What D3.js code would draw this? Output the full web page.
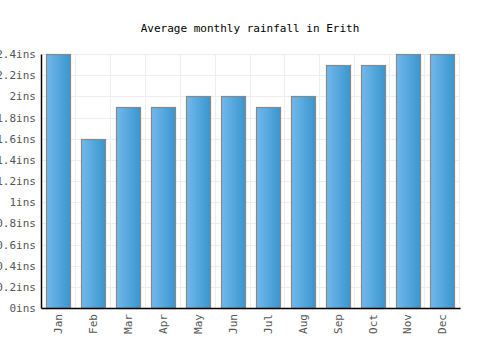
<!DOCTYPE html>
<html>
<head>
<meta charset="utf-8">
<script src="https://cdn.jsdelivr.net/npm/d3@7"></script>
<style>
  body { margin: 0; background: #fff; }
  text { font-family: "DejaVu Sans Mono", monospace; }
</style>
</head>
<body>
<div id="chart"></div>
<script>
// Data
const months = ["Jan", "Feb", "Mar", "Apr", "May", "Jun", "Jul", "Aug", "Sep", "Oct", "Nov", "Dec"];
const rainfall = [2.4, 1.6, 1.9, 1.9, 2.0, 2.0, 1.9, 2.0, 2.3, 2.3, 2.4, 2.4];
const yTicks = [0, 0.2, 0.4, 0.6, 0.8, 1, 1.2, 1.4, 1.6, 1.8, 2, 2.2, 2.4];

const margin = { top: 54, right: 40, bottom: 42, left: 41 };
const width = 500 - margin.left - margin.right;
const height = 350 - margin.top - margin.bottom;

const svg = d3.select("#chart").append("svg")
    .attr("width", 500)
    .attr("height", 350);

// gradient for bars
const grad = svg.append("defs").append("linearGradient")
    .attr("id", "barGrad")
    .attr("x1", "0%").attr("x2", "100%").attr("y1", "0%").attr("y2", "0%");
grad.append("stop").attr("offset", "0%").attr("stop-color", "#72b8ec");
grad.append("stop").attr("offset", "100%").attr("stop-color", "#3996ce");

svg.append("text")
    .attr("x", 250)
    .attr("y", 32)
    .attr("text-anchor", "middle")
    .attr("font-size", 11)
    .attr("fill", "#000")
    .text("Average monthly rainfall in Erith");

const g = svg.append("g")
    .attr("transform", "translate(" + margin.left + "," + margin.top + ")");

const x = d3.scaleBand().domain(months).range([0, width]).paddingInner(0.31).paddingOuter(0.155);
const y = d3.scaleLinear().domain([0, 2.4]).range([height, 0]);

// grid lines
g.append("g")
    .selectAll("line.h")
    .data(yTicks)
    .join("line")
    .attr("x1", 0).attr("x2", width)
    .attr("y1", d => Math.round(y(d)) + 0.5).attr("y2", d => Math.round(y(d)) + 0.5)
    .attr("stroke", "#eeeeee");

const step = x.step();
g.append("g")
    .selectAll("line.v")
    .data(d3.range(1, months.length + 1))
    .join("line")
    .attr("x1", d => Math.round(d * width / months.length) - 0.5)
    .attr("x2", d => Math.round(d * width / months.length) - 0.5)
    .attr("y1", 0).attr("y2", height)
    .attr("stroke", "#eeeeee");

// bars
g.selectAll("rect.bar")
    .data(rainfall)
    .join("rect")
    .attr("class", "bar")
    .attr("x", (d, i) => Math.round(x(months[i])) + 0.5)
    .attr("y", d => Math.round(y(d)) + 0.5)
    .attr("width", Math.round(x.bandwidth()))
    .attr("height", d => Math.round(height - y(d)))
    .attr("fill", "url(#barGrad)")
    .attr("stroke", "#888888")
    .attr("stroke-width", 1.2);

// y axis
const yAxis = g.append("g")
    .call(d3.axisLeft(y).tickValues(yTicks).tickSize(0).tickPadding(5).tickFormat(d => d + "ins"));
yAxis.select(".domain").attr("stroke", "#000").attr("stroke-width", 1.5);
yAxis.selectAll("text").attr("font-size", 11).attr("fill", "#555")
    .attr("font-family", "DejaVu Sans Mono, monospace");

// x axis
const xAxis = g.append("g")
    .attr("transform", "translate(0," + height + ")")
    .call(d3.axisBottom(x).tickSize(0).tickPadding(6));
xAxis.select(".domain").attr("stroke", "#000").attr("stroke-width", 1.5);
xAxis.selectAll("text")
    .attr("font-size", 11).attr("fill", "#555")
    .attr("font-family", "DejaVu Sans Mono, monospace")
    .attr("text-anchor", "end")
    .attr("dy", "0.35em")
    .attr("transform", "translate(0,6) rotate(-90)")
    .attr("x", 0).attr("y", 0);
</script>
</body>
</html>
